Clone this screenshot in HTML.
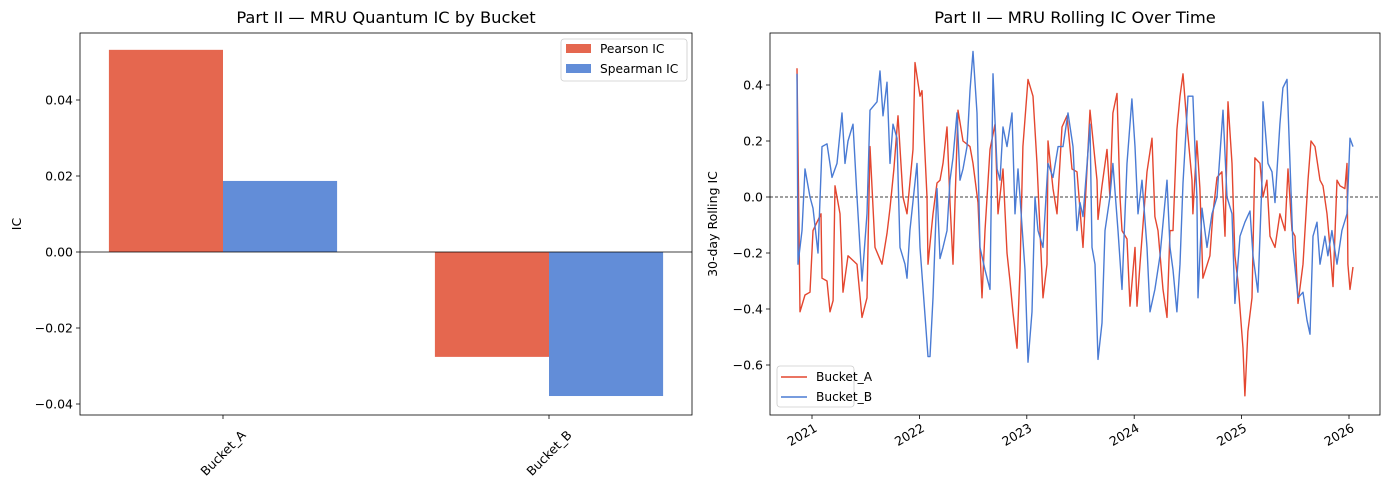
<!DOCTYPE html>
<html><head><meta charset="utf-8"><style>
body{margin:0;background:#fff;}
svg{display:block;font-family:"DejaVu Sans","Liberation Sans",sans-serif;}
</style></head><body>
<svg id="fig" width="1389" height="490" viewBox="0 0 1389 490" xmlns="http://www.w3.org/2000/svg">
<rect width="1389" height="490" fill="#fff"/>
<g id="left"></g>
<g id="right"></g>
</svg>
<script>
const barCategories = ["Bucket_A", "Bucket_B"];
const pearsonValues = [0.0532, -0.0276];
const spearmanValues = [0.0187, -0.0379];
const barYTicks = [-0.04, -0.02, 0.00, 0.02, 0.04];
const barYTickLabels = ["\u22120.04", "\u22120.02", "0.00", "0.02", "0.04"];

const aDates = [2020.860,2020.888,2020.935,2020.981,2021.009,2021.084,2021.093,2021.140,2021.168,2021.196,2021.214,2021.261,2021.289,2021.335,2021.419,2021.466,2021.512,2021.540,2021.587,2021.652,2021.698,2021.726,2021.763,2021.801,2021.847,2021.885,2021.940,2021.959,2022.006,2022.024,2022.071,2022.080,2022.127,2022.164,2022.192,2022.220,2022.257,2022.285,2022.313,2022.359,2022.406,2022.471,2022.499,2022.546,2022.583,2022.611,2022.657,2022.704,2022.732,2022.778,2022.816,2022.844,2022.871,2022.909,2022.937,2022.964,2023.011,2023.058,2023.095,2023.123,2023.151,2023.188,2023.197,2023.244,2023.281,2023.328,2023.374,2023.421,2023.467,2023.523,2023.588,2023.654,2023.663,2023.700,2023.747,2023.774,2023.802,2023.840,2023.868,2023.886,2023.933,2023.961,2024.007,2024.026,2024.054,2024.119,2024.166,2024.193,2024.222,2024.268,2024.305,2024.333,2024.361,2024.398,2024.426,2024.454,2024.491,2024.538,2024.547,2024.584,2024.612,2024.640,2024.705,2024.733,2024.771,2024.817,2024.845,2024.873,2024.911,2024.938,2024.966,2025.013,2025.031,2025.059,2025.097,2025.124,2025.171,2025.199,2025.236,2025.264,2025.311,2025.357,2025.404,2025.432,2025.469,2025.497,2025.525,2025.572,2025.618,2025.646,2025.683,2025.730,2025.758,2025.795,2025.823,2025.851,2025.888,2025.916,2025.962,2025.981,2025.990,2026.009,2026.037];
const aValues = [0.46,-0.41,-0.35,-0.34,-0.12,-0.06,-0.29,-0.30,-0.41,-0.37,0.04,-0.06,-0.34,-0.21,-0.24,-0.43,-0.36,0.18,-0.18,-0.24,-0.13,-0.04,0.10,0.29,0.00,-0.06,0.17,0.48,0.36,0.38,0.00,-0.24,-0.06,0.05,0.06,0.12,0.25,-0.02,-0.24,0.31,0.20,0.18,0.12,-0.02,-0.36,-0.12,0.17,0.26,-0.06,0.10,-0.20,-0.30,-0.41,-0.54,-0.26,0.18,0.42,0.36,0.12,-0.12,-0.36,-0.24,0.20,0.03,-0.06,0.25,0.29,0.10,0.09,-0.18,0.31,0.06,-0.08,0.04,0.17,0.00,0.30,0.37,0.00,-0.12,-0.15,-0.39,-0.18,-0.39,-0.24,0.09,0.21,-0.07,-0.12,-0.33,-0.43,-0.12,-0.12,0.24,0.36,0.44,0.26,0.06,-0.06,0.20,0.03,-0.29,-0.21,-0.06,0.07,0.09,-0.14,0.34,0.12,-0.21,-0.30,-0.54,-0.71,-0.48,-0.36,0.14,0.12,0.00,0.06,-0.14,-0.18,-0.06,-0.12,0.10,-0.12,-0.14,-0.38,-0.24,0.06,0.20,0.18,0.06,0.04,-0.06,-0.18,-0.32,0.06,0.04,0.03,0.12,-0.24,-0.33,-0.25];

const bDates = [2020.860,2020.870,2020.907,2020.935,2020.981,2021.009,2021.056,2021.093,2021.140,2021.186,2021.233,2021.279,2021.307,2021.335,2021.382,2021.419,2021.466,2021.512,2021.540,2021.605,2021.633,2021.661,2021.698,2021.726,2021.754,2021.791,2021.819,2021.866,2021.885,2021.912,2021.978,2022.006,2022.034,2022.080,2022.099,2022.127,2022.164,2022.192,2022.220,2022.257,2022.285,2022.313,2022.350,2022.378,2022.406,2022.443,2022.471,2022.499,2022.536,2022.564,2022.611,2022.657,2022.685,2022.723,2022.750,2022.778,2022.816,2022.862,2022.890,2022.918,2022.937,2022.983,2023.011,2023.048,2023.076,2023.104,2023.151,2023.197,2023.244,2023.291,2023.337,2023.384,2023.430,2023.467,2023.495,2023.523,2023.561,2023.588,2023.607,2023.635,2023.663,2023.700,2023.728,2023.774,2023.802,2023.849,2023.886,2023.933,2023.979,2024.007,2024.035,2024.073,2024.119,2024.147,2024.193,2024.240,2024.305,2024.333,2024.361,2024.398,2024.426,2024.454,2024.501,2024.547,2024.584,2024.594,2024.631,2024.678,2024.724,2024.771,2024.827,2024.864,2024.911,2024.938,2024.985,2025.031,2025.078,2025.106,2025.152,2025.190,2025.199,2025.246,2025.283,2025.311,2025.357,2025.385,2025.423,2025.451,2025.479,2025.525,2025.572,2025.609,2025.637,2025.665,2025.702,2025.730,2025.776,2025.804,2025.841,2025.888,2025.934,2025.981,2026.009,2026.037];
const bValues = [0.44,-0.24,-0.12,0.10,0.00,-0.04,-0.20,0.18,0.19,0.07,0.12,0.30,0.12,0.20,0.26,0.00,-0.30,-0.06,0.31,0.34,0.45,0.29,0.41,0.12,0.26,0.21,-0.18,-0.24,-0.29,-0.12,0.12,-0.18,-0.33,-0.57,-0.57,-0.36,0.03,-0.22,-0.18,-0.12,0.06,0.14,0.30,0.06,0.10,0.18,0.38,0.52,0.30,-0.18,-0.26,-0.33,0.44,0.10,0.06,0.25,0.18,0.30,-0.06,0.10,0.00,-0.26,-0.59,-0.41,0.00,-0.12,-0.18,0.12,0.07,0.18,0.18,0.30,0.18,-0.12,-0.02,-0.07,0.12,0.26,-0.18,-0.24,-0.58,-0.45,-0.12,0.00,0.12,-0.12,-0.33,0.12,0.35,0.18,-0.06,0.06,-0.18,-0.41,-0.33,-0.21,0.06,-0.18,-0.26,-0.41,-0.24,0.05,0.36,0.36,0.00,-0.36,-0.04,-0.18,-0.06,0.00,0.31,0.00,-0.06,-0.38,-0.14,-0.09,-0.05,-0.21,-0.34,0.06,0.34,0.12,0.09,-0.02,0.26,0.39,0.42,0.12,-0.18,-0.36,-0.34,-0.44,-0.49,-0.14,-0.09,-0.24,-0.14,-0.21,-0.12,-0.24,-0.12,-0.06,0.21,0.18];

const lineYTicks = [-0.6, -0.4, -0.2, 0.0, 0.2, 0.4];
const lineYTickLabels = ["\u22120.6", "\u22120.4", "\u22120.2", "0.0", "0.2", "0.4"];
const lineXTicks = [2021, 2022, 2023, 2024, 2025, 2026];
const lineXTickLabels = ["2021", "2022", "2023", "2024", "2025", "2026"];

const NS = "http://www.w3.org/2000/svg";
function mk(parent, tag, attrs, text) {
  const e = document.createElementNS(NS, tag);
  for (const k in attrs) e.setAttribute(k, attrs[k]);
  if (text !== undefined) e.textContent = text;
  parent.appendChild(e);
  return e;
}
const TICK_FS = 12.5, TITLE_FS = 16.3, LEG_FS = 12.2;

// ---------- Left panel ----------
const L = document.getElementById('left');
const LX0 = 80, LX1 = 692, LY0 = 33, LY1 = 415;
const lx = v => 223 + v * 326;
const ly = v => 252 - v * 3800;
const BW = 0.35;
const RED = "#e5674f", BLUE = "#628dd8";

barCategories.forEach((c, i) => {
  const p = pearsonValues[i], s = spearmanValues[i];
  const r1 = mk(L, 'rect', {x: lx(i - BW), y: Math.min(ly(p), ly(0)), width: lx(BW) - lx(0), height: Math.abs(ly(p) - ly(0)), fill: RED});
  
  
  const r2 = mk(L, 'rect', {x: lx(i), y: Math.min(ly(s), ly(0)), width: lx(BW) - lx(0), height: Math.abs(ly(s) - ly(0)), fill: BLUE});
  
  
  const tx = lx(i);
  mk(L, 'line', {x1: tx, x2: tx, y1: LY1, y2: LY1 + 4, stroke: '#000', 'stroke-width': 0.8});
  const cy = 453;
  const t = mk(L, 'text', {x: tx, y: cy + 4.5, 'font-size': TICK_FS, 'text-anchor': 'middle', transform: `rotate(-45 ${tx} ${cy})`}, c);
  
  
});
mk(L, 'line', {x1: LX0, x2: LX1, y1: ly(0), y2: ly(0), stroke: '#000', 'stroke-width': 0.8});
barYTicks.forEach((v, i) => {
  const y = ly(v);
  mk(L, 'line', {x1: LX0 - 4, x2: LX0, y1: y, y2: y, stroke: '#000', 'stroke-width': 0.8});
  const t = mk(L, 'text', {x: LX0 - 7, y: y + 4.5, 'font-size': TICK_FS, 'text-anchor': 'end'}, barYTickLabels[i]);
  
  
});
mk(L, 'rect', {x: LX0, y: LY0, width: LX1 - LX0, height: LY1 - LY0, fill: 'none', stroke: '#000', 'stroke-width': 0.8});
{
  const t = mk(L, 'text', {x: 386, y: 23, 'font-size': TITLE_FS, 'text-anchor': 'middle'}, 'Part II \u2014 MRU Quantum IC by Bucket');
   
  const yl = mk(L, 'text', {x: 21, y: 224, 'font-size': TICK_FS, 'text-anchor': 'middle', transform: 'rotate(-90 21 224)'}, 'IC');
   
  const lg = mk(L, 'g', {});
   
  mk(lg, 'rect', {x: 561, y: 39, width: 126, height: 42, rx: 3, fill: '#fff', stroke: '#ccc', 'stroke-width': 0.8});
  mk(lg, 'rect', {x: 566, y: 44, width: 25, height: 9, fill: RED});
  mk(lg, 'text', {x: 600, y: 53, 'font-size': LEG_FS}, 'Pearson IC');
  mk(lg, 'rect', {x: 566, y: 64, width: 25, height: 9, fill: BLUE});
  mk(lg, 'text', {x: 600, y: 73, 'font-size': LEG_FS}, 'Spearman IC');
}

// ---------- Right panel ----------
const R = document.getElementById('right');
const RX0 = 770, RX1 = 1380, RY0 = 33, RY1 = 415;
const rx = t => 812 + (t - 2021) * 107.4;
const ry = v => 197 - v * 280;
mk(R, 'line', {x1: RX0, x2: RX1, y1: ry(0), y2: ry(0), stroke: '#000', 'stroke-width': 0.8, 'stroke-dasharray': '3,2'});
const RLINE = "#e4462f", BLINE = "#4a7bd4";
function series(dates, vals, col, name) {
  const d = dates.map((t, i) => (i ? 'L' : 'M') + rx(t).toFixed(1) + ',' + ry(vals[i]).toFixed(1)).join('');
  const p = mk(R, 'path', {d: d, fill: 'none', stroke: col, 'stroke-width': 1.4, 'stroke-linejoin': 'round'});
  
  
}
series(aDates, aValues, RLINE, 'bucket-a-line');
series(bDates, bValues, BLINE, 'bucket-b-line');
lineYTicks.forEach((v, i) => {
  const y = ry(v);
  mk(R, 'line', {x1: RX0 - 4, x2: RX0, y1: y, y2: y, stroke: '#000', 'stroke-width': 0.8});
  const t = mk(R, 'text', {x: RX0 - 7, y: y + 4.5, 'font-size': TICK_FS, 'text-anchor': 'end'}, lineYTickLabels[i]);
  
  
});
lineXTicks.forEach((v, i) => {
  const x = rx(v);
  mk(R, 'line', {x1: x, x2: x, y1: RY1, y2: RY1 + 4, stroke: '#000', 'stroke-width': 0.8});
  const t = mk(R, 'text', {x: x + 4, y: RY1 + 16, 'font-size': TICK_FS, 'text-anchor': 'end', transform: `rotate(-30 ${x + 4} ${RY1 + 12})`}, lineXTickLabels[i]);
  
  
});
mk(R, 'rect', {x: RX0, y: RY0, width: RX1 - RX0, height: RY1 - RY0, fill: 'none', stroke: '#000', 'stroke-width': 0.8});
{
  const t = mk(R, 'text', {x: 1075, y: 23, 'font-size': TITLE_FS, 'text-anchor': 'middle'}, 'Part II \u2014 MRU Rolling IC Over Time');
   
  const yl = mk(R, 'text', {x: 717, y: 224, 'font-size': TICK_FS, 'text-anchor': 'middle', transform: 'rotate(-90 717 224)'}, '30-day Rolling IC');
   
  const lg = mk(R, 'g', {});
   
  mk(lg, 'rect', {x: 777, y: 366, width: 77, height: 41, rx: 3, fill: '#fff', stroke: '#ccc', 'stroke-width': 0.8});
  mk(lg, 'line', {x1: 781, x2: 807, y1: 377, y2: 377, stroke: RLINE, 'stroke-width': 1.5});
  mk(lg, 'text', {x: 816, y: 381, 'font-size': LEG_FS}, 'Bucket_A');
  mk(lg, 'line', {x1: 781, x2: 807, y1: 397, y2: 397, stroke: BLINE, 'stroke-width': 1.5});
  mk(lg, 'text', {x: 816, y: 401, 'font-size': LEG_FS}, 'Bucket_B');
}
</script>
</body></html>
